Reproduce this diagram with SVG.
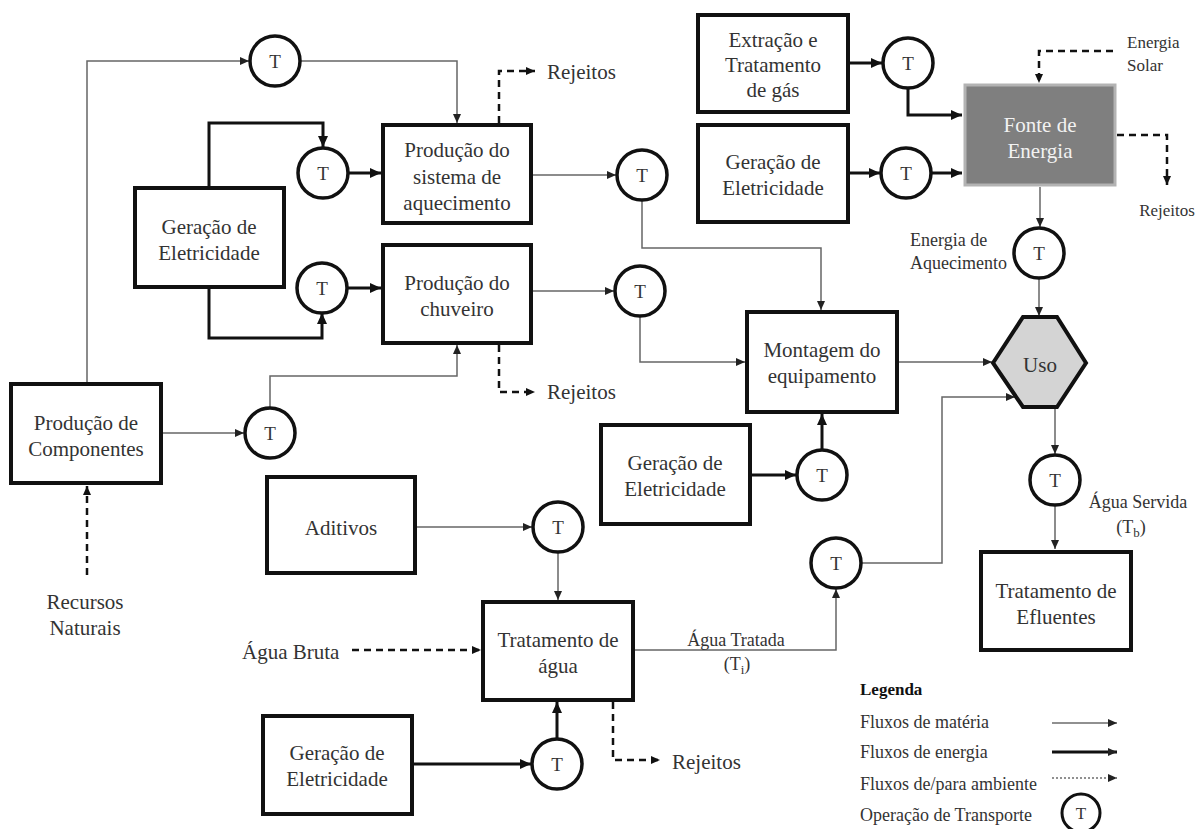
<svg xmlns="http://www.w3.org/2000/svg" width="1198" height="829" viewBox="0 0 1198 829">
<defs>
<style>
text{font-family:"Liberation Serif","Times New Roman",serif;fill:#333;}
.lbl{font-size:21px;text-anchor:middle;}
.sm{font-size:18px;}
.tl{font-size:19px;text-anchor:middle;}
.box{fill:#fff;stroke:#111;stroke-width:4;}
.tc{fill:#fff;stroke:#111;stroke-width:3.5;}
.m{fill:none;stroke:#666;stroke-width:1.5;marker-end:url(#am);}
.e{fill:none;stroke:#111;stroke-width:3;marker-end:url(#ae);}
.d{fill:none;stroke:#111;stroke-width:2.5;stroke-dasharray:7 5;marker-end:url(#ad);}
</style>
<marker id="am" markerUnits="userSpaceOnUse" markerWidth="9" markerHeight="8" refX="9" refY="4" orient="auto"><path d="M0,0 L9,4 L0,8 z" fill="#222"/></marker>
<marker id="ae" markerUnits="userSpaceOnUse" markerWidth="11" markerHeight="10" refX="11" refY="5" orient="auto"><path d="M0,0 L11,5 L0,10 z" fill="#111"/></marker>
<marker id="ad" markerUnits="userSpaceOnUse" markerWidth="9" markerHeight="8" refX="9" refY="4" orient="auto"><path d="M0,0 L9,4 L0,8 z" fill="#111"/></marker>
</defs>
<rect width="1198" height="829" fill="#fff"/>

<g id="connectors">
<path class="m" d="M87,382 V61 H249"/>
<path class="m" d="M300,61 H457 V123"/>
<path class="m" d="M533,175 H616"/>
<path class="m" d="M642,200 V248 H821 V310"/>
<path class="m" d="M533,291 H614"/>
<path class="m" d="M640,316 V362 H745"/>
<path class="m" d="M163,433 H244"/>
<path class="m" d="M270,408 V376 H457 V345"/>
<path class="m" d="M899,362 H992"/>
<path class="m" d="M417,527 H532"/>
<path class="m" d="M558,552 V600"/>
<path class="m" d="M635,650 H836 V589"/>
<path class="m" d="M861,563 H942 V397 H1015"/>
<path class="m" d="M1040,187 V227"/>
<path class="m" d="M1039,278 V316"/>
<path class="m" d="M1055,407 V454"/>
<path class="m" d="M1055,505 V549"/>

<path class="e" d="M209,186 V123 H323 V147"/>
<path class="e" d="M348,173 H381"/>
<path class="e" d="M209,289 V338 H322 V313"/>
<path class="e" d="M347,288 H381"/>
<path class="e" d="M752,475 H796"/>
<path class="e" d="M822,450 V414"/>
<path class="e" d="M414,764 H531"/>
<path class="e" d="M557,739 V702"/>
<path class="e" d="M850,63 H882"/>
<path class="e" d="M908,88 V115 H962"/>
<path class="e" d="M850,173 H880"/>
<path class="e" d="M931,173 H962"/>

<path class="d" d="M499,123 V71 H535"/>
<path class="d" d="M499,345 V392 H535"/>
<path class="d" d="M87,575 V486"/>
<path class="d" d="M352,650 H481"/>
<path class="d" d="M613,702 V760 H660"/>
<path class="d" d="M1113,51 H1039 V83"/>
<path class="d" d="M1117,135 H1167 V185"/>
</g>

<g id="ger-left"><rect class="box" x="135" y="188" width="149" height="99"/><text class="lbl" x="209" y="234">Geração de</text><text class="lbl" x="209" y="260">Eletricidade</text></g>
<g id="prod-sistema"><rect class="box" x="383" y="125" width="148" height="98"/><text class="lbl" x="457" y="157">Produção do</text><text class="lbl" x="457" y="184">sistema de</text><text class="lbl" x="457" y="210">aquecimento</text></g>
<g id="prod-chuveiro"><rect class="box" x="383" y="245" width="148" height="98"/><text class="lbl" x="457" y="290">Produção do</text><text class="lbl" x="457" y="316">chuveiro</text></g>
<g id="prod-componentes"><rect class="box" x="11" y="384" width="150" height="99"/><text class="lbl" x="86" y="430">Produção de</text><text class="lbl" x="86" y="456">Componentes</text></g>
<g id="montagem"><rect class="box" x="747" y="312" width="150" height="100"/><text class="lbl" x="822" y="357">Montagem do</text><text class="lbl" x="822" y="383">equipamento</text></g>
<g id="ger-mid"><rect class="box" x="601" y="425" width="149" height="99"/><text class="lbl" x="675" y="470">Geração de</text><text class="lbl" x="675" y="496">Eletricidade</text></g>
<g id="aditivos"><rect class="box" x="267" y="477" width="148" height="96"/><text class="lbl" x="341" y="535">Aditivos</text></g>
<g id="trat-agua"><rect class="box" x="483" y="602" width="150" height="98"/><text class="lbl" x="558" y="647">Tratamento de</text><text class="lbl" x="558" y="673">água</text></g>
<g id="ger-bottom"><rect class="box" x="263" y="716" width="149" height="98"/><text class="lbl" x="337" y="760">Geração de</text><text class="lbl" x="337" y="786">Eletricidade</text></g>
<g id="extracao"><rect class="box" x="698" y="15" width="150" height="97"/><text class="lbl" x="773" y="47">Extração e</text><text class="lbl" x="773" y="72">Tratamento</text><text class="lbl" x="773" y="97">de gás</text></g>
<g id="ger-topright"><rect class="box" x="698" y="125" width="150" height="97"/><text class="lbl" x="773" y="169">Geração de</text><text class="lbl" x="773" y="195">Eletricidade</text></g>
<g id="fonte"><rect x="965" y="85" width="150" height="100" fill="#7f7f7f" stroke="#b3b3b3" stroke-width="3"/><text class="lbl" x="1040" y="132" style="fill:#f2f2f2">Fonte de</text><text class="lbl" x="1040" y="158" style="fill:#f2f2f2">Energia</text></g>
<g id="uso"><polygon points="993,363 1023,317 1057,317 1086,363 1057,407 1023,407" fill="#d4d4d4" stroke="#111" stroke-width="4"/><text class="lbl" x="1040" y="372">Uso</text></g>
<g id="efluentes"><rect class="box" x="981" y="552" width="150" height="98"/><text class="lbl" x="1056" y="598">Tratamento de</text><text class="lbl" x="1056" y="624">Efluentes</text></g>

<g id="t1"><circle class="tc" cx="275" cy="61" r="25"/><text class="tl" x="275" y="68">T</text></g>
<g id="t2"><circle class="tc" cx="323" cy="173" r="25"/><text class="tl" x="323" y="180">T</text></g>
<g id="t3"><circle class="tc" cx="322" cy="288" r="25"/><text class="tl" x="322" y="295">T</text></g>
<g id="t4"><circle class="tc" cx="642" cy="175" r="25"/><text class="tl" x="642" y="182">T</text></g>
<g id="t5"><circle class="tc" cx="640" cy="291" r="25"/><text class="tl" x="640" y="298">T</text></g>
<g id="t6"><circle class="tc" cx="270" cy="433" r="25"/><text class="tl" x="270" y="440">T</text></g>
<g id="t7"><circle class="tc" cx="822" cy="475" r="25"/><text class="tl" x="822" y="482">T</text></g>
<g id="t8"><circle class="tc" cx="558" cy="527" r="25"/><text class="tl" x="558" y="534">T</text></g>
<g id="t9"><circle class="tc" cx="557" cy="764" r="25"/><text class="tl" x="557" y="771">T</text></g>
<g id="t10"><circle class="tc" cx="836" cy="563" r="25"/><text class="tl" x="836" y="570">T</text></g>
<g id="t11"><circle class="tc" cx="908" cy="63" r="25"/><text class="tl" x="908" y="70">T</text></g>
<g id="t12"><circle class="tc" cx="906" cy="173" r="25"/><text class="tl" x="906" y="180">T</text></g>
<g id="t13"><circle class="tc" cx="1039" cy="253" r="25"/><text class="tl" x="1039" y="260">T</text></g>
<g id="t14"><circle class="tc" cx="1055" cy="480" r="25"/><text class="tl" x="1055" y="487">T</text></g>

<g id="labels">
<text class="lbl" x="547" y="79" style="text-anchor:start">Rejeitos</text>
<text class="lbl" x="547" y="399" style="text-anchor:start">Rejeitos</text>
<text class="lbl" x="672" y="769" style="text-anchor:start">Rejeitos</text>
<text class="lbl" x="85" y="609">Recursos</text>
<text class="lbl" x="85" y="635">Naturais</text>
<text class="lbl" x="242" y="659" style="text-anchor:start">Água Bruta</text>
<text x="1127" y="48" style="font-size:17px">Energia</text>
<text x="1127" y="71" style="font-size:17px">Solar</text>
<text x="1167" y="216" style="font-size:17px;text-anchor:middle">Rejeitos</text>
<text class="sm" x="910" y="246">Energia de</text>
<text class="sm" x="910" y="269">Aquecimento</text>
<text class="sm" x="1138" y="508" style="text-anchor:middle">Água Servida</text>
<text class="sm" x="1131" y="533" style="text-anchor:middle">(T<tspan font-size="13" dy="4">b</tspan><tspan dy="-4">)</tspan></text>
<text class="sm" x="736" y="646" style="text-anchor:middle">Água Tratada</text>
<text class="sm" x="737" y="670" style="text-anchor:middle">(T<tspan font-size="13" dy="4">i</tspan><tspan dy="-4">)</tspan></text>
</g>

<g id="legend">
<text x="860" y="695" style="font-size:17px;font-weight:bold;fill:#111">Legenda</text>
<text class="sm" x="860" y="728">Fluxos de matéria</text>
<text class="sm" x="860" y="758">Fluxos de energia</text>
<text class="sm" x="860" y="790">Fluxos de/para ambiente</text>
<text class="sm" x="860" y="821">Operação de Transporte</text>
<path d="M1052,723 H1117" fill="none" stroke="#222" stroke-width="1.2" marker-end="url(#am)"/>
<path d="M1052,752 H1117" fill="none" stroke="#111" stroke-width="3" marker-end="url(#am)"/>
<path d="M1052,778 H1117" fill="none" stroke="#222" stroke-width="1.2" stroke-dasharray="2 2" marker-end="url(#am)"/>
<circle class="tc" cx="1081" cy="813" r="19" style="stroke-width:3"/><text x="1081" y="819" style="font-size:17px;text-anchor:middle">T</text>
</g>
</svg>
